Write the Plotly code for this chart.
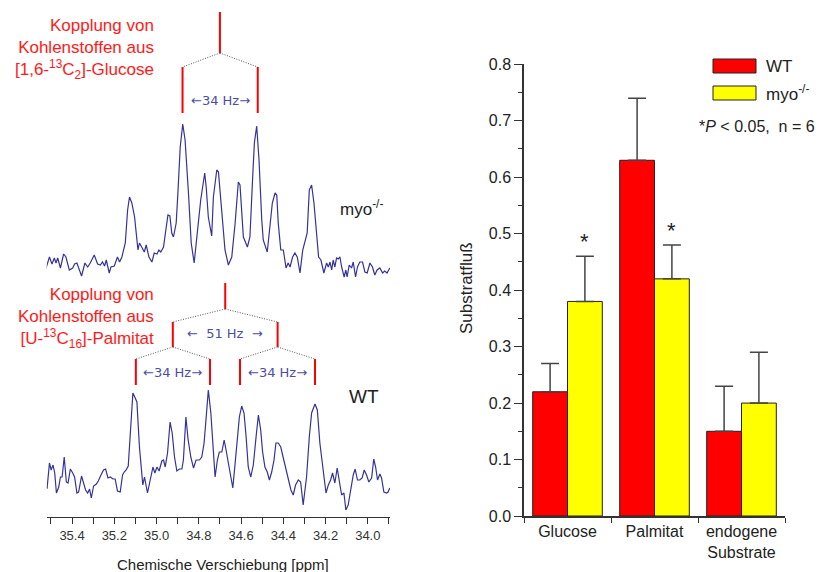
import plotly.graph_objects as go

# ---------------- 13C NMR spectra (C-2 region) ----------------
# chemical shift [ppm] and intensity [a.u.] of the myo-/- spectrum
myo_ppm = [35.526, 35.507, 35.495, 35.484, 35.476, 35.468, 35.455, 35.440, 35.429, 35.413,
           35.397, 35.388, 35.377, 35.355, 35.339, 35.326, 35.314, 35.295, 35.279, 35.266,
           35.256, 35.246, 35.238, 35.224, 35.216, 35.200, 35.185, 35.175, 35.164, 35.148,
           35.137, 35.128, 35.117, 35.104, 35.088, 35.081, 35.068, 35.058, 35.049, 35.036,
           35.022, 35.011, 34.998, 34.989, 34.980, 34.967, 34.958, 34.946, 34.937, 34.928,
           34.920, 34.907, 34.899, 34.888, 34.876, 34.865, 34.849, 34.836, 34.822, 34.809,
           34.791, 34.772, 34.765, 34.755, 34.739, 34.731, 34.715, 34.707, 34.691, 34.676,
           34.660, 34.644, 34.628, 34.613, 34.605, 34.589, 34.570, 34.558, 34.545, 34.537,
           34.526, 34.515, 34.502, 34.495, 34.476, 34.463, 34.452, 34.439, 34.431, 34.424,
           34.412, 34.400, 34.387, 34.377, 34.368, 34.356, 34.345, 34.334, 34.321, 34.308,
           34.298, 34.287, 34.277, 34.266, 34.255, 34.242, 34.233, 34.222, 34.208, 34.195,
           34.187, 34.179, 34.171, 34.164, 34.156, 34.148, 34.140, 34.132, 34.124, 34.112,
           34.104, 34.098, 34.088, 34.077, 34.069, 34.058, 34.049, 34.038, 34.025, 34.014,
           34.003, 33.990, 33.978, 33.967, 33.956, 33.943, 33.930, 33.920, 33.909, 33.896]
myo_int = [10, 23, 16, 22, 17, 22, 12, 26, 23, 10,
           12, 16, 17, 4, 17, 13, 17, 25, 16, 15,
           18, 14, 20, 7, 13, 14, 23, 18, 23, 37,
           70, 83, 77, 63, 30, 37, 32, 28, 35, 23,
           18, 27, 26, 30, 28, 33, 47, 65, 64, 47,
           43, 57, 87, 133, 156, 140, 87, 37, 17, 43,
           80, 107, 93, 63, 44, 83, 110, 108, 70, 30,
           15, 23, 57, 98, 95, 43, 33, 43, 103, 137,
           154, 120, 60, 40, 28, 53, 77, 87, 85, 57,
           30, 30, 12, 17, 13, 23, 27, 23, 7, 30,
           37, 47, 90, 95, 77, 43, 23, 20, 7, 17,
           13, 18, 10, 20, 13, 22, 21, 23, 13, 3,
           10, 3, 15, 12, 18, 3, 13, 18, 18, 8,
           7, 17, 13, 5, 10, 12, 7, 9, 7, 12]

# chemical shift [ppm] and intensity [a.u.] of the WT spectrum
wt_ppm = [35.526, 35.518, 35.507, 35.499, 35.490, 35.482, 35.474, 35.463, 35.455, 35.447,
          35.437, 35.427, 35.419, 35.408, 35.397, 35.388, 35.377, 35.369, 35.355, 35.345,
          35.336, 35.326, 35.317, 35.309, 35.298, 35.285, 35.276, 35.263, 35.251, 35.241,
          35.230, 35.219, 35.206, 35.196, 35.185, 35.172, 35.161, 35.153, 35.144, 35.134,
          35.125, 35.112, 35.101, 35.093, 35.081, 35.065, 35.057, 35.043, 35.030, 35.017,
          35.008, 34.998, 34.988, 34.975, 34.967, 34.959, 34.948, 34.936, 34.926, 34.915,
          34.904, 34.892, 34.880, 34.873, 34.861, 34.851, 34.838, 34.825, 34.813, 34.797,
          34.786, 34.775, 34.765, 34.755, 34.743, 34.734, 34.723, 34.712, 34.703, 34.691,
          34.680, 34.671, 34.660, 34.649, 34.639, 34.628, 34.618, 34.608, 34.597, 34.586,
          34.576, 34.566, 34.554, 34.542, 34.529, 34.518, 34.507, 34.498, 34.487, 34.476,
          34.466, 34.455, 34.444, 34.435, 34.424, 34.412, 34.400, 34.387, 34.375, 34.364,
          34.353, 34.342, 34.329, 34.318, 34.306, 34.290, 34.277, 34.266, 34.250, 34.239,
          34.227, 34.214, 34.198, 34.187, 34.176, 34.167, 34.156, 34.145, 34.135, 34.124,
          34.113, 34.104, 34.093, 34.082, 34.069, 34.060, 34.049, 34.038, 34.027, 34.017,
          34.006, 33.995, 33.982, 33.972, 33.963, 33.954, 33.943, 33.935, 33.924, 33.911,
          33.904, 33.896]
wt_int = [28, 27, 52, 45, 50, 42, 22, 28, 38, 38,
          58, 33, 32, 46, 42, 38, 22, 23, 39, 31,
          25, 22, 26, 17, 29, 31, 34, 40, 45, 46,
          37, 38, 36, 36, 24, 23, 40, 43, 45, 49,
          78, 122, 117, 113, 68, 30, 38, 22, 35, 48,
          42, 48, 44, 54, 55, 48, 62, 93, 82, 58,
          44, 46, 46, 55, 98, 76, 58, 47, 55, 55,
          58, 72, 98, 125, 102, 68, 38, 55, 63, 63,
          75, 65, 52, 35, 27, 52, 78, 98, 109, 102,
          78, 48, 38, 50, 78, 100, 85, 63, 48, 43,
          35, 43, 55, 72, 72, 68, 57, 45, 37, 25,
          20, 30, 35, 33, 10, 38, 78, 102, 111, 105,
          72, 48, 22, 30, 35, 42, 32, 47, 32, 20,
          22, 5, 10, 25, 40, 46, 35, 35, 37, 45,
          40, 33, 37, 56, 48, 35, 41, 37, 23, 22,
          23, 27]

# vertical stacking offsets of the two spectra
myo_offset = 237
wt_offset = 2

# coupling patterns [ppm]
glc_center = 34.700
glc_lines = [34.877, 34.521]
pal_center = 34.675
pal_first = [34.923, 34.427]
pal_second = [35.098, 34.747, 34.605, 34.250]

# ---------------- substrate flux ----------------
categories = ["Glucose", "Palmitat", "endogene<br>Substrate"]
wt_flux = [0.22, 0.63, 0.15]
wt_sem = [0.05, 0.11, 0.08]
myo_flux = [0.38, 0.42, 0.20]
myo_sem = [0.08, 0.06, 0.09]
significant = [True, True, False]

FONT = "Liberation Sans, Arial, sans-serif"
RED = "#ff0000"
BLUE = "#33339a"
LABEL_BLUE = "#4e4ea0"
AX = "#333333"
W, H = 822, 572

fig = go.Figure()

fig.add_trace(go.Scatter(x=myo_ppm, y=[v + myo_offset for v in myo_int], mode="lines",
                         line=dict(color=BLUE, width=1.2), showlegend=False,
                         xaxis="x", yaxis="y"))
fig.add_trace(go.Scatter(x=wt_ppm, y=[v + wt_offset for v in wt_int], mode="lines",
                         line=dict(color=BLUE, width=1.2), showlegend=False,
                         xaxis="x", yaxis="y"))

fig.add_trace(go.Bar(x=categories, y=wt_flux, name="WT",
                     marker=dict(color="#ff0000", line=dict(color="#222222", width=1)),
                     error_y=dict(type="data", symmetric=False, array=wt_sem,
                                  arrayminus=[0] * len(wt_sem), color="#444444",
                                  thickness=1.5, width=9),
                     showlegend=False, xaxis="x2", yaxis="y2"))
fig.add_trace(go.Bar(x=categories, y=myo_flux, name="myo-/-",
                     marker=dict(color="#ffff00", line=dict(color="#222222", width=1)),
                     error_y=dict(type="data", symmetric=False, array=myo_sem,
                                  arrayminus=[0] * len(myo_sem), color="#444444",
                                  thickness=1.5, width=9),
                     showlegend=False, xaxis="x2", yaxis="y2"))

shapes = []
annotations = []


def red_line(x, y0, y1):
    shapes.append(dict(type="line", xref="x", yref="y", x0=x, x1=x, y0=y0, y1=y1,
                       line=dict(color=RED, width=2)))


def dotted(x0, y0, x1, y1):
    shapes.append(dict(type="line", xref="x", yref="y", x0=x0, x1=x1, y0=y0, y1=y1,
                       line=dict(color="#555555", width=1, dash="1px,1.5px")))


def hz_label(x, y, text):
    annotations.append(dict(x=x, y=y, xref="x", yref="y", text=text, showarrow=False,
                            xanchor="center", yanchor="middle",
                            font=dict(family="DejaVu Sans", size=13, color=LABEL_BLUE)))


def paper_text(x, y, text, size, color="#222222", xanchor="center", align="center", angle=0):
    annotations.append(dict(x=x / W, y=(H - y) / H, xref="paper", yref="paper", text=text,
                            xanchor=xanchor, yanchor="middle", align=align, textangle=angle,
                            showarrow=False, font=dict(family=FONT, size=size, color=color)))


# Glucose: doublet (34 Hz)
red_line(glc_center, 505, 464)
for p in glc_lines:
    dotted(glc_center, 464, p, 450)
    red_line(p, 450, 404)
hz_label(sum(glc_lines) / 2, 417, "\u219034 Hz\u2192")

# Palmitat: doublet of doublets (51 Hz, 34 Hz)
red_line(pal_center, 234, 208)
for p in pal_first:
    dotted(pal_center, 208, p, 195)
    red_line(p, 195, 170)
hz_label(pal_center, 184, "\u2190  51 Hz  \u2192")
for i, p in enumerate(pal_first):
    pair = pal_second[2 * i:2 * i + 2]
    for q in pair:
        dotted(p, 170, q, 158)
        red_line(q, 158, 132)
    hz_label(sum(pair) / 2, 145, "\u219034 Hz\u2192")

# red descriptions of the coupling origins
paper_text(156, 49, "Kopplung von<br>Kohlenstoffen aus<br>[1,6-<sup>13</sup>C<sub>2</sub>]-Glucose",
           17, color="#ff1a1a", xanchor="right", align="right")
paper_text(156, 318, "Kopplung von<br>Kohlenstoffen aus<br>[U-<sup>13</sup>C<sub>16</sub>]-Palmitat",
           17, color="#ff1a1a", xanchor="right", align="right")

paper_text(361, 208, "myo<sup>-/-</sup>", 17)
paper_text(364, 396, "WT", 19)
paper_text(223, 564, "Chemische Verschiebung [ppm]", 15)

# bar chart texts
paper_text(466, 288, "Substratflu\u00df", 17, angle=-90)

for i, sig in enumerate(significant):
    if sig:
        annotations.append(dict(x=i + 0.2, y=myo_flux[i] + myo_sem[i], xref="x2", yref="y2",
                                text="*", showarrow=False, xanchor="center", yanchor="bottom",
                                yshift=0, font=dict(family=FONT, size=22, color="#222222")))

# legend
for (y0, y1), color, label in [((59, 73), "#ff0000", "WT"),
                               ((86, 100), "#ffff00", "myo<sup>-/-</sup>")]:
    shapes.append(dict(type="rect", xref="paper", yref="paper",
                       x0=713 / W, x1=756 / W, y0=(H - y1) / H, y1=(H - y0) / H,
                       fillcolor=color, line=dict(color="#222222", width=1)))
    paper_text(764, (y0 + y1) / 2, label, 17, xanchor="left", align="left")

paper_text(697, 127, "*<i>P</i> < 0.05,  n = 6", 16, xanchor="left", align="left")

fig.update_layout(
    width=W, height=H,
    margin=dict(l=0, r=0, t=0, b=0, pad=0, autoexpand=False),
    paper_bgcolor="white", plot_bgcolor="white",
    font=dict(family=FONT, color=AX),
    barmode="group", bargap=0.2, bargroupgap=0,
    xaxis=dict(domain=[46.7 / W, 390 / W], anchor="y", range=[35.52, 33.895], automargin=False,
               showline=True, linecolor=AX, linewidth=1, showgrid=False, zeroline=False,
               ticks="outside", ticklen=6, tickcolor=AX, tick0=35.4, dtick=0.2,
               tickformat=".1f", tickfont=dict(family=FONT, size=13, color=AX),
               minor=dict(dtick=0.1, ticks="outside", ticklen=6, tickcolor=AX)),
    yaxis=dict(domain=[(H - 517) / H, 1], anchor="x", range=[0, 517], visible=False,
               automargin=False),
    xaxis2=dict(domain=[524 / W, 785 / W], anchor="y2", type="category", range=[-0.5, 2.5],
                automargin=False, tickson="boundaries", ticks="outside", ticklen=5,
                tickcolor=AX, showline=True, linecolor=AX, linewidth=1.5, showgrid=False,
                tickfont=dict(family=FONT, size=16, color="#222222")),
    yaxis2=dict(domain=[(H - 516) / H, (H - 64.3) / H], anchor="x2", range=[0, 0.8],
                automargin=False, dtick=0.1, tickformat=".1f", ticks="outside", ticklen=8,
                tickcolor=AX, showline=True, linecolor=AX, linewidth=1.5, showgrid=False,
                zeroline=False, tickfont=dict(family=FONT, size=16, color="#222222"),
                minor=dict(dtick=0.05, ticks="outside", ticklen=4, tickcolor=AX)),
    shapes=shapes,
    annotations=annotations,
)

fig.write_html("out.html")
